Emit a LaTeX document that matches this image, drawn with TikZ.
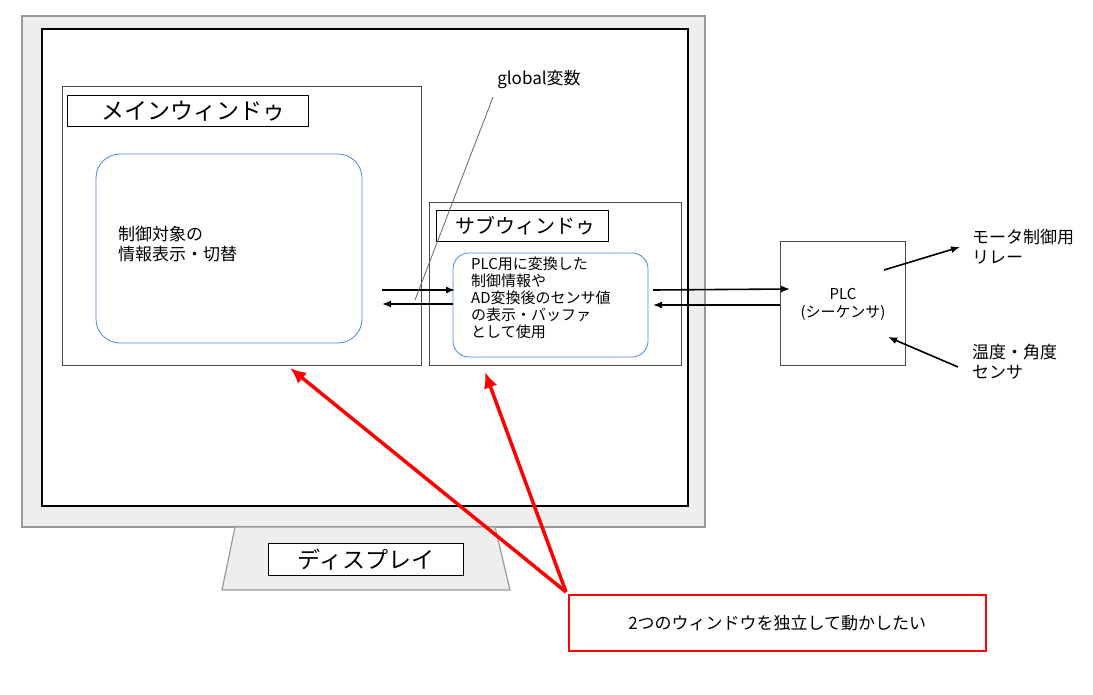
\documentclass[tikz,border=0pt]{standalone}
\usepackage{fontspec}
\setmainfont{Noto Sans CJK JP}
\usetikzlibrary{positioning}
\definecolor{frame}{HTML}{999999}
\definecolor{bezel}{HTML}{EEEEEE}
\definecolor{winblue}{HTML}{4A86E8}
\tikzset{
  win/.style={draw=black!70,fill=white,line width=0.8pt},
  title/.style={draw=black,fill=white,line width=0.8pt,anchor=north west,inner sep=0pt,font=\fontsize{23}{23}\selectfont},
  panel/.style={draw=winblue,rounded corners=24pt,line width=0.8pt},
  txt/.style={align=left,font=\fontsize{17}{20}\selectfont,inner sep=0pt},
  sig/.style={-{Latex[length=9pt,width=7pt]},line width=1.6pt},
  red/.style={-{Latex[length=16pt,width=14pt]},draw=red,line width=3.5pt}
}
\usetikzlibrary{arrows.meta}
\begin{document}
\begin{tikzpicture}[x=1pt,y=-1pt]
\useasboundingbox (0,0) rectangle (1093,695);

% display
\draw[fill=bezel,draw=frame,line width=1.2pt] (22,16) rectangle (705,527);
\draw[fill=white,line width=1.2pt] (42,29) rectangle (688,506);
\draw[fill=bezel,draw=frame,line width=1.2pt] (235,527) -- (495,527) -- (510,590) -- (222,590) -- cycle;
\node[title,minimum width=195pt,minimum height=32pt] (disp) at (268,543) {ディスプレイ};

% main window
\draw[win] (62,86) rectangle (421,365);
\node[title,minimum width=241pt,minimum height=31pt,anchor=north west] (mainT) at (67,95) {\hspace*{12pt}メインウィンドゥ\hfill};
\draw[panel] (96,154) rectangle (362,343);
\node[txt,anchor=north west] (mainP) at (118,226) {制御対象の\\情報表示・切替};

% sub window
\draw[win] (429,202) rectangle (681,365);
\node[title,minimum width=172pt,minimum height=31pt,font=\fontsize{20}{20}\selectfont] (subT) at (436,210) {\hspace*{6pt}サブウィンドゥ\hfill};
\draw[panel,rounded corners=16pt] (453,253) rectangle (648,357);
\node[txt,anchor=north west,font=\fontsize{15}{17}\selectfont] (subP) at (471,257) {PLC用に変換した\\制御情報や\\AD変換後のセンサ値\\の表示・バッファ\\として使用};

% PLC
\draw[win] (780,241) rectangle (905,365);
\node[txt,align=center,font=\fontsize{15}{18}\selectfont] (plc) at (843,304) {PLC\\(シーケンサ)};
\node[txt,anchor=north west] (relay) at (972,229) {モータ制御用\\リレー};
\node[txt,anchor=north west] (sensor) at (972,344) {温度・角度\\センサ};

\coordinate (m1) at (382,290); \coordinate (s1) at (455,290);
\coordinate (s2) at (453,304); \coordinate (m2) at (382,304);
\coordinate (s3) at (653,290); \coordinate (p1) at (790,289);
\coordinate (p2) at (780,305); \coordinate (s4) at (653,305);
\coordinate (p3) at (884,270); \coordinate (r1) at (960,247);
\coordinate (e1) at (958,367); \coordinate (p4) at (888,337);
\draw[sig] (m1) -- (s1);
\draw[sig] (s2) -- (m2);
\draw[sig] (s3) -- (p1);
\draw[sig] (p2) -- (s4);
\draw[sig] (p3) -- (r1);
\draw[sig] (e1) -- (p4);

% global
\node[txt] (glob) at (539,79) {global変数};
\coordinate (g1) at (493,97); \coordinate (g2) at (415,300);
\draw[black!60,line width=0.8pt] (g1) -- (g2);

% note
\node[draw=red,line width=1.5pt,minimum width=417pt,minimum height=56pt,txt,anchor=north west,align=center] (note) at (568,594) {2つのウィンドウを独立して動かしたい};
\coordinate (n1) at (566,592);
\coordinate (w1) at (290,368); \coordinate (w2) at (485,372);
\draw[red] (n1) -- (w1);
\draw[red] (n1) -- (w2);
\end{tikzpicture}
\end{document}
